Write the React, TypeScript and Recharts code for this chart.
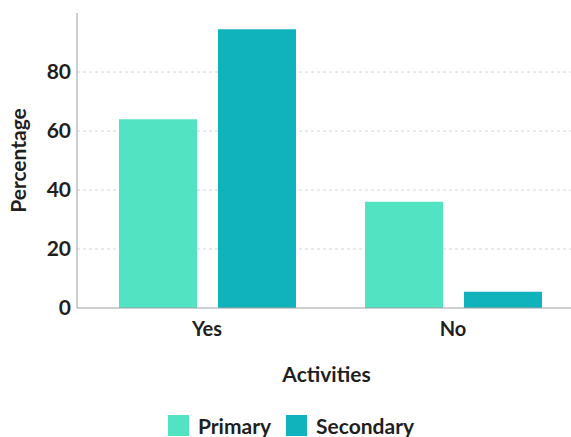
import { BarChart, Bar, XAxis, YAxis, CartesianGrid, Legend } from 'recharts'

// Survey answers, percentage of respondents
const categories = ['Yes', 'No']
const primary = [64, 36]
const secondary = [94.5, 5.5]
const yTicks = [0, 20, 40, 60, 80]
const gridValues = [20, 40, 60, 80]

const PRIMARY_COLOR = '#52e3c2'
const SECONDARY_COLOR = '#10b3bb'
const TEXT = '#1f1f1f'
const FONT = 'Lato, "Open Sans", sans-serif'

const data = categories.map((name, i) => ({
  name,
  Primary: primary[i],
  Secondary: secondary[i],
}))

// Square swatches with bold labels, like the original
function SquareLegend({ payload }: any) {
  const items = payload || []
  return (
    <div style={{ display: 'flex', justifyContent: 'center', alignItems: 'center', fontFamily: FONT, paddingTop: 20, paddingLeft: 6 }}>
      {items.map((entry: any, i: number) => (
        <div key={entry.value} style={{ display: 'flex', alignItems: 'center', marginRight: i < items.length - 1 ? 15 : 0 }}>
          <span style={{ width: 21, height: 21, background: entry.color, display: 'inline-block', marginRight: 9 }} />
          <span style={{ fontSize: 21, fontWeight: 700, color: TEXT }}>{entry.value}</span>
        </div>
      ))}
    </div>
  )
}

export default function App() {
  return (
    <div style={{ position: 'absolute', left: 0, top: 0, width: 571, height: 437, overflow: 'hidden', background: '#fff' }}>
      <BarChart
        width={576}
        height={437}
        data={data}
        margin={{ top: 13, right: 0, left: 0, bottom: 0 }}
        barSize={78}
        barGap={21}
      >
        <CartesianGrid vertical={false} stroke="#d4d4d4" strokeDasharray="3 3" horizontalValues={gridValues} />
        <XAxis
          dataKey="name"
          height={85}
          padding={{ left: 7, right: 0 }}
          tickLine={false}
          axisLine={{ stroke: '#9a9ea3' }}
          tick={{ fill: TEXT, fontSize: 20, fontWeight: 700, fontFamily: FONT }}
          tickMargin={8}
          label={{ value: 'Activities', position: 'insideBottom', offset: 11, fill: TEXT, fontSize: 21, fontWeight: 700, fontFamily: FONT }}
        />
        <YAxis
          width={77}
          domain={[0, 100]}
          ticks={yTicks}
          tickLine={false}
          tickSize={4}
          axisLine={{ stroke: '#9a9ea3' }}
          tick={{ fill: TEXT, fontSize: 21, fontWeight: 700, fontFamily: FONT }}
          label={{ value: 'Percentage', angle: -90, position: 'insideLeft', offset: 19, fill: TEXT, fontSize: 21, fontWeight: 700, fontFamily: FONT, style: { textAnchor: 'middle' } }}
        />
        <Legend verticalAlign="bottom" height={44} content={<SquareLegend />} />
        <Bar dataKey="Primary" fill={PRIMARY_COLOR} isAnimationActive={false} />
        <Bar dataKey="Secondary" fill={SECONDARY_COLOR} isAnimationActive={false} />
      </BarChart>
    </div>
  )
}
